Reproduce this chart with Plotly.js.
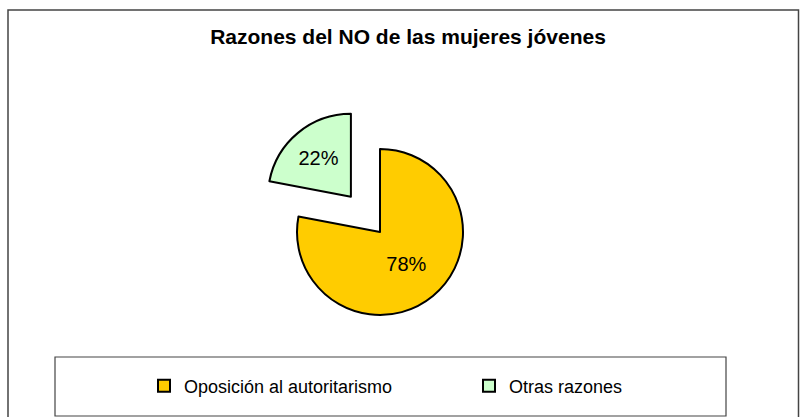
<!DOCTYPE html>
<html>
<head>
<meta charset="utf-8">
<script src="https://cdn.plot.ly/plotly-3.0.1.min.js"></script>
<style>html,body{margin:0;padding:0;background:#fff;}#chart{width:800px;height:417px;}</style>
</head>
<body>
<div id="chart"></div>
<script>
const categories = ["Oposición al autoritarismo", "Otras razones"];
const values = [78, 22];
const sliceColors = ["#FFCC00", "#CCFFCC"];
const pulls = [0, 0.55];
const chartTitle = "Razones del NO de las mujeres jóvenes";

const W = 800, H = 417;
function px(x){ return x / W; }
function py(y){ return 1 - y / H; }

const trace = {
  type: "pie",
  labels: categories,
  values: values,
  sort: false,
  direction: "clockwise",
  rotation: 0,
  pull: pulls,
  marker: { colors: sliceColors, line: { color: "#000000", width: 2 } },
  textinfo: "percent",
  texttemplate: "%{percent:.0%}",
  textposition: "inside",
  insidetextorientation: "horizontal",
  insidetextfont: { family: "Liberation Sans, Arial, sans-serif", size: 20, color: "#000000" },
  hoverinfo: "label+percent",
  domain: { x: [px(380 - 128.65), px(380 + 128.65)], y: [py(232 + 128.65), py(232 - 128.65)] }
};

const layout = {
  width: W, height: H, autosize: false,
  margin: { l: 0, r: 0, t: 0, b: 0, pad: 0 },
  paper_bgcolor: "#ffffff",
  plot_bgcolor: "#ffffff",
  font: { family: "Liberation Sans, Arial, sans-serif", color: "#000000" },
  title: {
    text: "<b>" + chartTitle + "</b>",
    font: { family: "Liberation Sans, Arial, sans-serif", size: 21, color: "#000000" },
    x: px(408), xanchor: "center", xref: "paper",
    y: py(37), yanchor: "middle", yref: "container"
  },
  showlegend: true,
  legend: {
    orientation: "h",
    x: px(144), xanchor: "left",
    y: py(386), yanchor: "middle",
    font: { family: "Liberation Sans, Arial, sans-serif", size: 18, color: "#000000" },
    bgcolor: "rgba(0,0,0,0)",
    borderwidth: 0,
    entrywidth: 280, entrywidthmode: "pixels",
    traceorder: "normal"
  },
  shapes: [
    { type: "rect", xref: "paper", yref: "paper", x0: px(8), x1: px(798.5), y0: py(422), y1: py(10),
      line: { color: "#444444", width: 1.5 }, fillcolor: "rgba(0,0,0,0)", layer: "below" },
    { type: "rect", xref: "paper", yref: "paper", x0: px(55), x1: px(726), y0: py(416), y1: py(357),
      line: { color: "#444444", width: 1.2 }, fillcolor: "rgba(0,0,0,0)", layer: "below" }
  ]
};

Plotly.newPlot("chart", [trace], layout, { displayModeBar: false, staticPlot: true });
</script>
</body>
</html>
